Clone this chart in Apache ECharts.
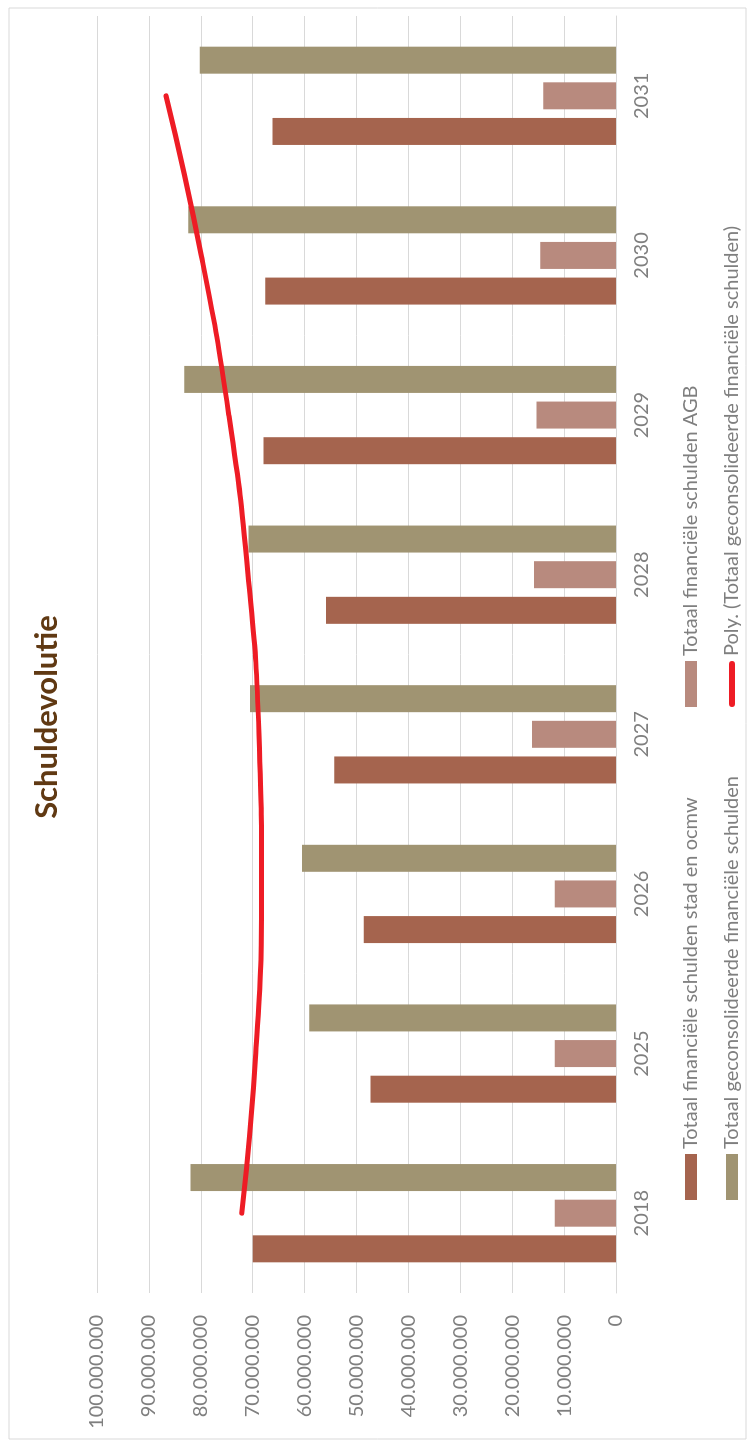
<!DOCTYPE html>
<html>
<head>
<meta charset="utf-8">
<title>Schuldevolutie</title>
<script src="https://cdn.jsdelivr.net/npm/echarts@6/dist/echarts.min.js"></script>
<style>
  html, body { margin: 0; padding: 0; background: #fff; overflow: hidden; }
  /* chart is drawn landscape and turned a quarter left, like the source */
  #chart {
    position: absolute;
    left: 0;
    top: 0;
    width: 1448px;
    height: 756px;
    transform-origin: 0 0;
    transform: translateY(1448px) rotate(-90deg);
  }
</style>
</head>
<body>
<div id="chart"></div>
<script>
// jaren
const years = ['2018', '2025', '2026', '2027', '2028', '2029', '2030', '2031'];
// Totaal financiële schulden stad en ocmw
const stadOcmw = [70000000, 47300000, 48600000, 54300000, 55900000, 67900000, 67600000, 66200000];
// Totaal financiële schulden AGB
const agb = [11800000, 11800000, 11800000, 16200000, 15800000, 15300000, 14600000, 14000000];
// Totaal geconsolideerde financiële schulden
const geconsolideerd = [82000000, 59100000, 60500000, 70500000, 70800000, 83200000, 82400000, 80200000];
const polyTrend = [72100000, 69400000, 68300000, 68800000, 70900000, 74600000, 79900000, 86700000];

const names = [
  'Totaal financiële schulden stad en ocmw',
  'Totaal financiële schulden AGB',
  'Totaal geconsolideerde financiële schulden',
  'Poly. (Totaal geconsolideerde financiële schulden)'
];

const FONT = 'Lato, "Liberation Sans", sans-serif';
const GREY = '#7f7f7f';

function dots(v) {
  return String(v).replace(/\B(?=(\d{3})+(?!\d))/g, '.');
}

const chart = echarts.init(document.getElementById('chart'));

const legendText = { color: GREY, fontSize: 20, fontFamily: FONT, lineHeight: 20 };
// thin rounded stroke inside the 46x12 legend box
const lineIcon = 'path://M0,0M46,12M3,3L43,3A3,3,0,0,1,43,9L3,9A3,3,0,0,1,3,3Z';

const option = {
  animation: false,
  textStyle: { fontFamily: FONT },
  title: {
    text: 'Schuldevolutie',
    left: 731,
    textAlign: 'center',
    top: 31,
    padding: 0,
    textStyle: { fontSize: 31, fontWeight: 'bold', color: '#603913', fontFamily: FONT }
  },
  graphic: [{
    type: 'rect',
    z: -10,
    shape: { x: 9, y: 9, width: 1431, height: 737 },
    style: { fill: 'none', stroke: '#d9d9d9', lineWidth: 1 }
  }],
  legend: [
    {
      orient: 'vertical',
      left: 248,
      top: 681,
      padding: 0,
      itemWidth: 46,
      itemHeight: 12,
      itemGap: 21,
      selectedMode: false,
      textStyle: legendText,
      data: [
        { name: names[0], icon: 'rect' },
        { name: names[2], icon: 'rect' }
      ]
    },
    {
      orient: 'vertical',
      left: 741,
      top: 681,
      padding: 0,
      itemWidth: 46,
      itemHeight: 12,
      itemGap: 21,
      selectedMode: false,
      textStyle: legendText,
      data: [
        { name: names[1], icon: 'rect' },
        { name: names[3], icon: lineIcon }
      ]
    }
  ],
  grid: {
    left: 155,
    right: 16,
    top: 97,
    bottom: 140,
    containLabel: false
  },
  xAxis: {
    type: 'category',
    data: years,
    axisLine: { lineStyle: { color: '#d9d9d9' } },
    axisTick: { show: false },
    axisLabel: { color: GREY, fontSize: 20, margin: 16, fontFamily: FONT }
  },
  yAxis: {
    type: 'value',
    min: 0,
    max: 100000000,
    interval: 10000000,
    axisLine: { show: false },
    axisTick: { show: false },
    splitLine: { lineStyle: { color: '#d9d9d9', width: 1 } },
    axisLabel: { color: GREY, fontSize: 20, margin: 22, fontFamily: FONT, formatter: dots }
  },
  series: [
    {
      name: names[0],
      type: 'bar',
      data: stadOcmw,
      barWidth: 27,
      barGap: '32%',
      itemStyle: { color: '#a5644e' }
    },
    {
      name: names[1],
      type: 'bar',
      data: agb,
      barWidth: 27,
      barGap: '32%',
      itemStyle: { color: '#b88a7e' }
    },
    {
      name: names[2],
      type: 'bar',
      data: geconsolideerd,
      barWidth: 27,
      barGap: '32%',
      itemStyle: { color: '#a09472' }
    },
    {
      name: names[3],
      type: 'line',
      data: polyTrend,
      smooth: true,
      symbol: 'none',
      z: 5,
      lineStyle: { color: '#ee1c25', width: 5, cap: 'round' },
      itemStyle: { color: '#ee1c25' }
    }
  ]
};

chart.setOption(option);
</script>
</body>
</html>
